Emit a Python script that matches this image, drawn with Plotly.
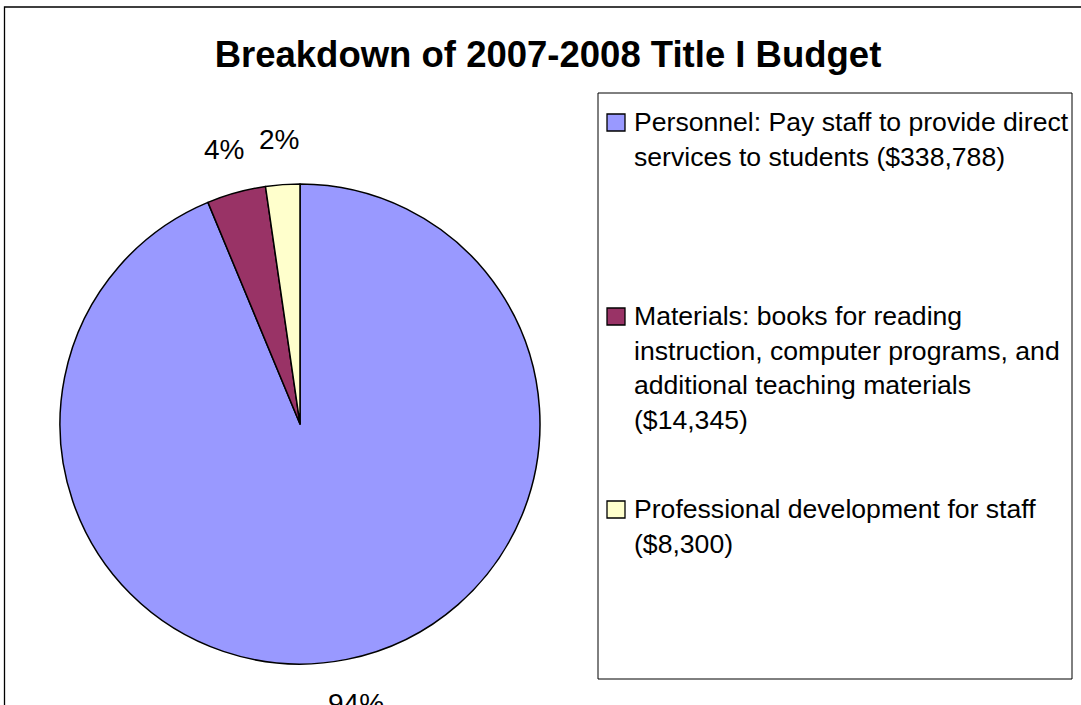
import math
import plotly.graph_objects as go

# --- Data ---
categories = [
    "Personnel: Pay staff to provide direct services to students",
    "Materials: books for reading instruction, computer programs, and additional teaching materials",
    "Professional development for staff",
]
amounts = [338788, 14345, 8300]
colors = ["#9999FF", "#993366", "#FFFFCC"]
legend_labels = [
    "Personnel: Pay staff to provide direct<br>services to students ($338,788)",
    "Materials: books for reading<br>instruction, computer programs, and<br>additional teaching materials<br>($14,345)",
    "Professional development for staff<br>($8,300)",
]
title_text = "Breakdown of 2007-2008 Title I Budget"

W, H = 1081, 705
FONT = "Liberation Sans, Arial, sans-serif"


def px_x(x):
    return x / W


def px_y(y):
    return 1 - y / H


# --- Pie ---
cx, cy, r = 300, 424, 240
fig = go.Figure(go.Pie(
    labels=categories,
    values=amounts,
    sort=False,
    direction="clockwise",
    rotation=0,
    marker=dict(colors=colors, line=dict(color="black", width=1.5)),
    textinfo="none",
    showlegend=False,
    domain=dict(x=[px_x(cx - r), px_x(cx + r)], y=[px_y(cy + r), px_y(cy - r)]),
))

# --- Percentage labels just outside each slice (Excel style, no leader lines) ---
annotations = []
total = sum(amounts)
start = 0.0
label_dist = r + 45
for v in amounts:
    frac = v / total
    mid = 2 * math.pi * (start + frac / 2)
    start += frac
    lx = cx + label_dist * math.sin(mid)
    ly = cy - label_dist * math.cos(mid)
    annotations.append(dict(text=f"{round(100 * frac)}%", xref="paper", yref="paper",
                            x=px_x(lx), y=px_y(ly), xanchor="center", yanchor="middle",
                            showarrow=False,
                            font=dict(family=FONT, size=28, color="black")))

# --- Frame and legend box ---
shapes = [
    dict(type="rect", xref="paper", yref="paper",
         x0=px_x(4.5), x1=1.05, y0=-0.05, y1=px_y(7),
         line=dict(color="black", width=1.3), fillcolor="rgba(0,0,0,0)"),
    dict(type="rect", xref="paper", yref="paper",
         x0=px_x(598), x1=px_x(1072), y0=px_y(679), y1=px_y(93),
         line=dict(color="black", width=1), fillcolor="white", layer="below"),
]
item_baselines = [131, 325, 518]
for label, color, base in zip(legend_labels, colors, item_baselines):
    shapes.append(dict(type="rect", xref="paper", yref="paper",
                       x0=px_x(607), x1=px_x(625), y0=px_y(base), y1=px_y(base - 17),
                       line=dict(color="black", width=1.3), fillcolor=color))
    annotations.append(dict(text=label, xref="paper", yref="paper",
                            x=px_x(632), y=px_y(base - 26), xanchor="left", yanchor="top",
                            align="left", showarrow=False,
                            font=dict(family=FONT, size=26.6, color="black")))

fig.update_layout(
    width=W, height=H,
    margin=dict(l=0, r=0, t=0, b=0),
    paper_bgcolor="white",
    plot_bgcolor="white",
    title=dict(text="<b>" + title_text + "</b>", x=px_x(548), xanchor="center",
               y=px_y(54), yanchor="middle", yref="container",
               font=dict(family=FONT, size=36.5, color="black")),
    shapes=shapes,
    annotations=annotations,
)

fig.write_html("out.html", config={"displayModeBar": False},
               post_script="document.body.style.margin = '0';")
